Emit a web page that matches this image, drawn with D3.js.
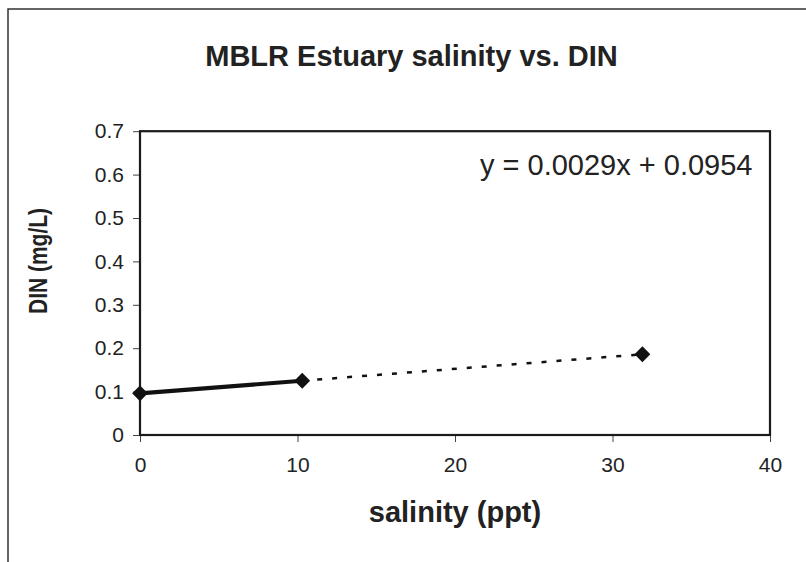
<!DOCTYPE html>
<html><head><meta charset="utf-8">
<script src="https://cdn.jsdelivr.net/npm/d3@7"></script>
<style>
html,body{margin:0;padding:0;background:#fff;}
svg{display:block;font-family:"Liberation Sans",Arial,sans-serif;}
</style></head>
<body>
<svg id="c" width="806" height="562"></svg>
<script>
const salinity = [0, 10.3, 31.9];
const din = [0.096, 0.125, 0.186];
const xTicks = [0, 10, 20, 30, 40];
const yTicks = [0, 0.1, 0.2, 0.3, 0.4, 0.5, 0.6, 0.7];
const yTickLabels = ["0", "0.1", "0.2", "0.3", "0.4", "0.5", "0.6", "0.7"];
const titleText = "MBLR Estuary salinity vs. DIN";
const xTitle = "salinity (ppt)";
const yTitle = "DIN (mg/L)";
const equation = "y = 0.0029x + 0.0954";

const svg = d3.select("#c");
const ink = "#222";

// chart area border
svg.append("rect").attr("x", 8).attr("y", 9).attr("width", 900).attr("height", 700)
  .attr("fill", "#fff").attr("stroke", "#333").attr("stroke-width", 1.5);

const x = d3.scaleLinear().domain([0, 40]).range([140, 770]);
const y = d3.scaleLinear().domain([0, 0.7]).range([435, 131.2]);

// y axis ticks + labels
const yAxis = d3.axisLeft(y).tickValues(yTicks).tickSize(7).tickPadding(9)
  .tickFormat((d, i) => yTickLabels[i]);
const gy = svg.append("g").attr("transform", "translate(140,0)").call(yAxis);
gy.select(".domain").remove();
gy.selectAll("line").attr("stroke", "#444").attr("stroke-width", 1);
gy.selectAll("text").attr("font-size", 21).attr("fill", ink)
  .attr("font-family", "Liberation Sans, Arial, sans-serif");

// x axis ticks + labels
const xAxis = d3.axisBottom(x).tickValues(xTicks).tickSize(7).tickPadding(15)
  .tickFormat(d3.format("d"));
const gx = svg.append("g").attr("transform", "translate(0,435)").call(xAxis);
gx.select(".domain").remove();
gx.selectAll("line").attr("stroke", "#444").attr("stroke-width", 1);
gx.selectAll("text").attr("font-size", 21).attr("fill", ink)
  .attr("font-family", "Liberation Sans, Arial, sans-serif");

// plot area box
svg.append("rect").attr("x", x(0)).attr("y", y(0.7))
  .attr("width", x(40) - x(0)).attr("height", y(0) - y(0.7))
  .attr("fill", "none").attr("stroke", "#1a1a1a").attr("stroke-width", 2.2);

// lines
const pts = salinity.map((s, i) => [s, din[i]]);
const line = d3.line().x(d => x(d[0])).y(d => y(d[1]));
svg.append("path").attr("d", line(pts.slice(1, 3)))
  .attr("fill", "none").attr("stroke", "#111").attr("stroke-width", 2.5)
  .attr("stroke-dasharray", "5,10");
svg.append("path").attr("d", line(pts.slice(0, 2)))
  .attr("fill", "none").attr("stroke", "#111").attr("stroke-width", 4.2);

// markers
svg.selectAll("path.pt").data(pts).join("path").attr("class", "pt")
  .attr("d", d3.symbol().type(d3.symbolSquare).size(125)())
  .attr("transform", d => `translate(${x(d[0])},${y(d[1])}) rotate(45)`)
  .attr("fill", "#111");

// title
svg.append("text").attr("x", 411.5).attr("y", 66).attr("text-anchor", "middle")
  .attr("font-size", 29).attr("font-weight", "bold").attr("fill", ink)
  .text(titleText);

// equation
svg.append("text").attr("x", 480).attr("y", 175)
  .attr("font-size", 29).attr("fill", ink)
  .text(equation);

// x title
svg.append("text").attr("x", 455).attr("y", 522).attr("text-anchor", "middle")
  .attr("font-size", 29).attr("font-weight", "bold").attr("fill", ink)
  .text(xTitle);

// y title
svg.append("text").attr("transform", "translate(47,261) rotate(-90)")
  .attr("text-anchor", "middle")
  .attr("font-size", 26).attr("font-weight", "bold").attr("fill", ink)
  .attr("textLength", 106).attr("lengthAdjust", "spacingAndGlyphs")
  .text(yTitle);
</script>
</body></html>
